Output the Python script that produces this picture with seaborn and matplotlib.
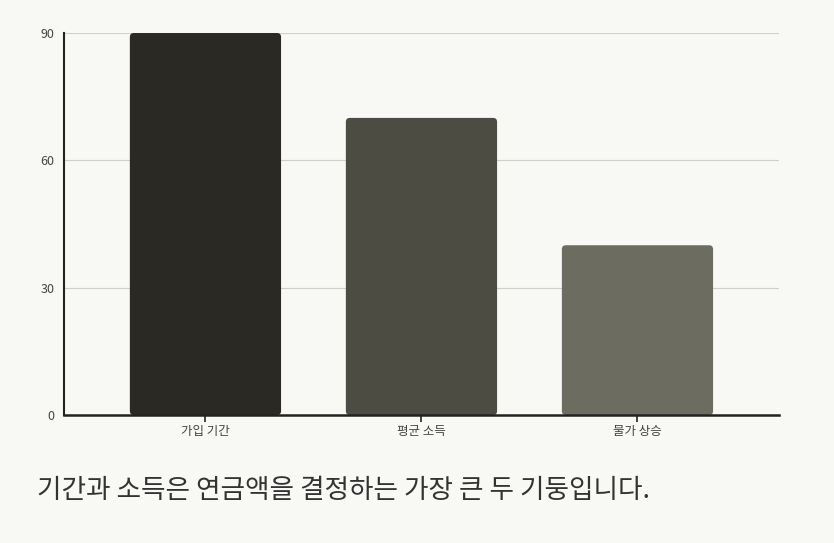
import matplotlib
matplotlib.use('Agg')
import matplotlib.pyplot as plt
from matplotlib.patches import FancyBboxPatch
import seaborn as sns
import pandas as pd

# chart values
categories = ['가입 기간', '평균 소득', '물가 상승']
values = [90, 70, 40]
bar_colors = ['#2b2a22', '#4e4e40', '#6e6f5e']
y_ticks = [0, 30, 60, 90]
caption = '기간과 소득은 연금액을 결정하는 가장 큰 두 기둥입니다.'

sns.set_style('white')
plt.rcParams['font.family'] = ['Noto Sans CJK KR', 'DejaVu Sans']

df = pd.DataFrame({'factor': categories, 'value': values})

fig = plt.figure(figsize=(8.34, 5.43), dpi=100, facecolor='#f8f8f5')
ax = fig.add_axes([0.0767, 0.2357, 0.8573, 0.7035])
ax.set_facecolor('#f8f8f5')

sns.barplot(data=df, x='factor', y='value', hue='factor', palette=bar_colors,
            width=0.7, legend=False, ax=ax, zorder=3)

ax.set_xlim(-0.655, 2.655)
ax.set_ylim(0, 90)
ax.set_yticks(y_ticks)

# swap plain bars for rounded ones
fig.canvas.draw()
bb = ax.get_window_extent()
ux = (ax.get_xlim()[1] - ax.get_xlim()[0]) / bb.width
uy = (ax.get_ylim()[1] - ax.get_ylim()[0]) / bb.height
for p in list(ax.patches):
    x, y, w, h = p.get_x(), p.get_y(), p.get_width(), p.get_height()
    fc = p.get_facecolor()
    p.remove()
    ax.add_patch(FancyBboxPatch((x, y), w, h,
                                boxstyle=f'round,pad=0,rounding_size={4 * ux}',
                                mutation_aspect=uy / ux, fc=fc, ec='none',
                                zorder=3))

ax.grid(axis='y', color='#cfcfcb', linewidth=0.8, zorder=0)
ax.grid(axis='x', visible=False)
for s in ['top', 'right']:
    ax.spines[s].set_visible(False)
ax.spines['left'].set_color('#222222')
ax.spines['left'].set_linewidth(1.5)
ax.spines['bottom'].set_color('#222222')
ax.spines['bottom'].set_linewidth(1.8)
ax.spines['bottom'].set_zorder(4)

ax.tick_params(axis='y', length=5, width=1.5, color='#222222',
               labelsize=9, labelcolor='#444444', pad=2)
ax.tick_params(axis='x', length=5, width=1.2, color='#222222',
               labelsize=9, labelcolor='#444444', pad=2, bottom=True)
ax.set_xlabel('')
ax.set_ylabel('')

fig.text(37 / 834, 1 - 491 / 543, caption, fontsize=19.2, color='#333333',
         va='center', ha='left')

fig.savefig('out.png', dpi=100, facecolor=fig.get_facecolor())
